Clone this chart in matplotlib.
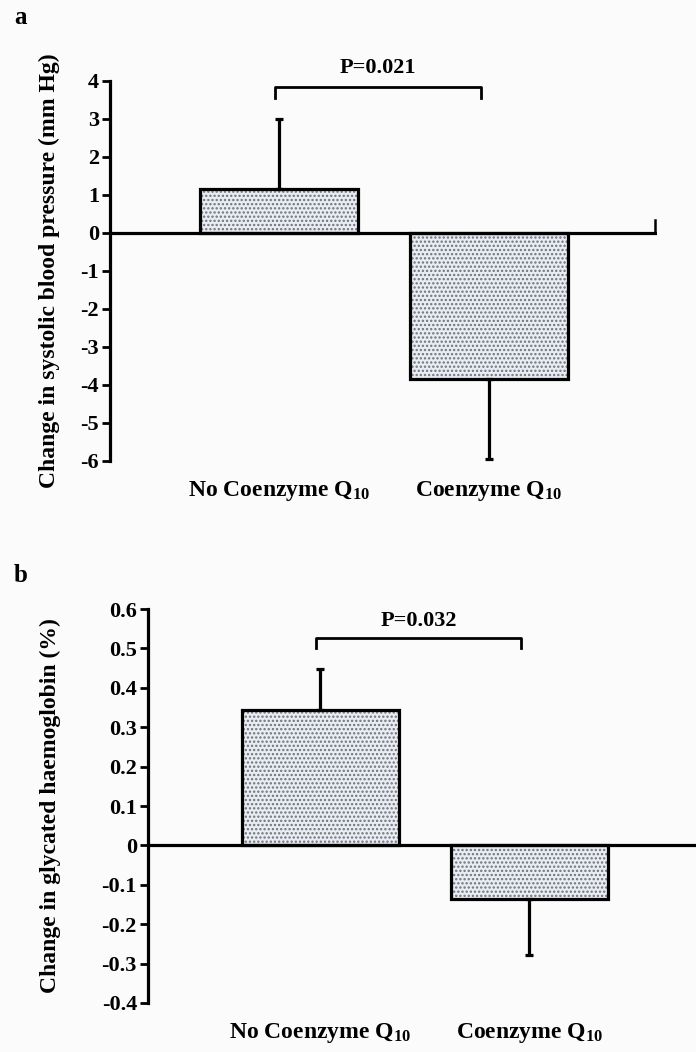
import matplotlib
matplotlib.use("Agg")
import matplotlib.pyplot as plt

plt.rcParams['font.family'] = ['Liberation Serif', 'DejaVu Serif']
plt.rcParams['font.weight'] = 'bold'
plt.rcParams['hatch.linewidth'] = 1.1
plt.rcParams['mathtext.fontset'] = 'custom'
plt.rcParams['mathtext.rm'] = 'Liberation Serif:bold'
plt.rcParams['mathtext.it'] = 'Liberation Serif:bold'
plt.rcParams['mathtext.bf'] = 'Liberation Serif:bold'
plt.rcParams['mathtext.default'] = 'rm'

# Data
groups = ["No Coenzyme Q$_{10}$", "Coenzyme Q$_{10}$"]
sbp_change = [1.15, -3.85]
sbp_err = [1.85, 2.10]
hba1c_change = [0.343, -0.136]
hba1c_err = [0.105, 0.143]
sbp_ticks = [4, 3, 2, 1, 0, -1, -2, -3, -4, -5, -6]
hba1c_ticks = [0.6, 0.5, 0.4, 0.3, 0.2, 0.1, 0, -0.1, -0.2, -0.3, -0.4]
sbp_p = "P=0.021"
hba1c_p = "P=0.032"

W, H = 696, 1052
fig = plt.figure(figsize=(W / 100, H / 100), dpi=100)
fig.patch.set_facecolor('#fcfbfb')

def fx(px):
    return px / W

def fy(py):
    return 1 - py / H

def panel(ax, vals, errs, ticks, ylims, xlims, ylabel, ptext, bracket_y, leg_y, ptext_y,
          stub, ylabel_x):
    ax.set_facecolor('none')
    pos = [0, 1]
    width = 0.755
    ax.bar(pos, vals, width=width, color='#e9ecf1', edgecolor='#6c727c',
           hatch='....', linewidth=0, zorder=2)
    ax.bar(pos, vals, width=width, color='none', edgecolor='black',
           linewidth=2.3, zorder=3)
    for x, v, e in zip(pos, vals, errs):
        sign = 1 if v >= 0 else -1
        ax.errorbar([x], [v], yerr=[[0], [e]] if sign > 0 else [[e], [0]],
                    fmt='none', ecolor='black', elinewidth=2.3, capsize=3,
                    capthick=2.3, zorder=4)
    ax.set_xlim(*xlims)
    ax.set_ylim(*ylims)
    ax.axhline(0, color='black', lw=2.3, zorder=5)
    ax.plot([xlims[1] - 0.01, xlims[1] - 0.01], [0, stub], color='black', lw=1.8,
            clip_on=False)
    for s in ['top', 'right', 'bottom']:
        ax.spines[s].set_visible(False)
    ax.spines['left'].set_linewidth(2.3)
    ax.set_yticks(ticks)
    ax.set_yticklabels([f"{t:g}" for t in ticks], fontsize=16, fontweight='bold')
    ax.tick_params(axis='y', length=6, width=2.0, pad=2)
    ax.set_xticks([])
    for x, g in zip(pos, groups):
        ax.annotate(g, xy=(x, ylims[0]), xytext=(0, -13), textcoords='offset points',
                    ha='center', va='top', fontsize=17, fontweight='bold',
                    annotation_clip=False)
    # significance bracket
    x0, x1 = -0.02, 0.96
    ax.plot([x0, x0, x1, x1], [leg_y, bracket_y, bracket_y, leg_y], color='black',
            lw=2.0, clip_on=False)
    ax.text((x0 + x1) / 2, ptext_y, ptext, ha='center', va='center', fontsize=16,
            fontweight='bold', clip_on=False)
    fig.text(ylabel_x, (ax.get_position().y0 + ax.get_position().y1) / 2, ylabel,
             rotation=90, ha='center', va='center', fontsize=17, fontweight='bold')

# Panel a
ax1 = fig.add_axes([fx(110), fy(461), fx(657 - 110), (461 - 81) / H])
panel(ax1, sbp_change, sbp_err, sbp_ticks, (-6, 4), (-0.805, 1.80),
      "Change in systolic blood pressure (mm Hg)", sbp_p, 3.85, 3.55, 4.35, 0.35,
      fx(49))

# Panel b
ax2 = fig.add_axes([fx(148), fy(1003), fx(700 - 148), (1003 - 609) / H])
panel(ax2, hba1c_change, hba1c_err, hba1c_ticks, (-0.4, 0.6), (-0.825, 1.816),
      "Change in glycated haemoglobin (%)", hba1c_p, 0.527, 0.50, 0.57, 0.02,
      fx(50))

fig.text(fx(14), fy(18), "a", fontsize=18, fontweight='bold', ha='left', va='center')
fig.text(fx(14), fy(575), "b", fontsize=18, fontweight='bold', ha='left', va='center')

fig.savefig("out.png", dpi=100, facecolor=fig.get_facecolor())
